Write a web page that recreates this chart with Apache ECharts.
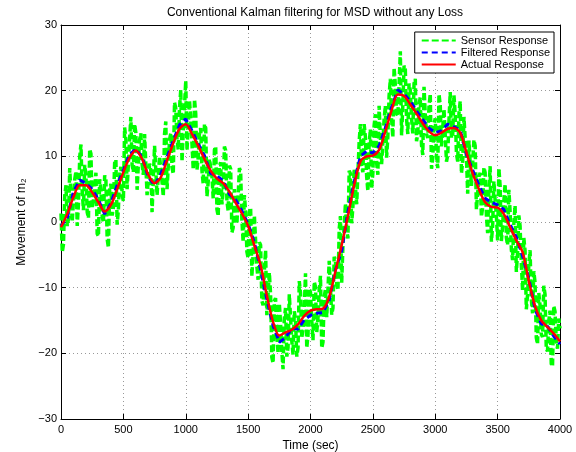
<!DOCTYPE html>
<html>
<head>
<meta charset="utf-8">
<title>Conventional Kalman filtering for MSD</title>
<script src="https://cdn.jsdelivr.net/npm/echarts@6/dist/echarts.min.js"></script>
<style>
  html, body { margin: 0; padding: 0; background: #fff; }
  #chart { width: 576px; height: 452px; }
</style>
</head>
<body>
<div id="chart"></div>
<script>
  // time axis ticks
  var xTicks = [0, 500, 1000, 1500, 2000, 2500, 3000, 3500, 4000];
  var yTicks = [-30, -20, -10, 0, 10, 20, 30];

  // actual response, one value every 50 s
  var actualT = [];
  for (var i = 0; i <= 80; i++) actualT.push(i * 50);
  var actual = [
    -0.8, 1.2, 3.8, 5.6, 5.6, 4.5, 3.0, 1.6, 2.6, 5.0,
    7.6, 9.8, 10.9, 9.6, 7.2, 5.9, 6.8, 9.4, 12.0, 14.2,
    14.9, 13.4, 11.6, 9.6, 7.8, 6.6, 5.9, 4.6, 2.9, 1.3,
    -0.6, -3.6, -6.6, -11.2, -15.2, -17.3, -16.8, -16.4, -15.6, -14.3,
    -13.5, -13.3, -13.2, -11.4, -7.5, -3.5, 0.9, 5.6, 9.2, 10.0,
    10.1, 11.0, 13.8, 17.0, 19.4, 19.2, 17.9, 16.5, 15.0, 13.8,
    13.2, 13.6, 14.2, 14.3, 13.6, 10.6, 7.4, 5.0, 3.0, 2.3,
    2.2, 1.2, -0.8, -2.8, -4.6, -9.0, -12.8, -15.0, -16.0, -17.0,
    -18.2
  ];

  // filtered response, same time steps
  var filtered = [
    -0.6, 0.6, 4.6, 6.4, 5.9, 5.0, 3.4, 1.2, 2.9, 5.6,
    7.9, 10.3, 11.1, 9.9, 6.8, 5.6, 7.3, 9.9, 12.4, 14.8,
    15.7, 13.9, 11.9, 10.1, 7.4, 7.0, 6.3, 4.2, 3.4, 1.7,
    -0.3, -3.1, -7.3, -11.8, -15.8, -18.3, -17.6, -16.2, -16.3, -14.9,
    -14.2, -13.9, -13.8, -11.9, -7.3, -4.4, 1.6, 6.1, 10.0, 10.8,
    10.5, 11.6, 14.3, 17.5, 20.1, 19.5, 18.4, 16.9, 15.6, 14.3,
    13.6, 13.9, 14.9, 14.5, 14.0, 10.3, 7.9, 5.6, 3.6, 3.0,
    2.6, 1.9, -0.4, -2.3, -5.2, -8.6, -13.3, -15.5, -15.9, -17.4,
    -18.6
  ];

  // sensor response at t = 0, 20, 40 ... 4000 s
  var sensorEven = [
    1.3, -3.4, 5.6, 0.5, 8.1, -0.3, 7.7, 2.8, 11.8, 1.8,
    7.1, 0.6, 10.4, 3.4, 7.5, -2.2, 4.8, -0.1, 6.4, -3.9,
    5.8, 2.1, 9.5, 1.9, 8.4, 3.2, 12.6, 8.8, 16.0, 7.6,
    13.6, 4.9, 13.5, 7.2, 13.1, 4.1, 7.9, 1.3, 11.5, 4.2,
    10.1, 3.9, 15.3, 8.5, 13.5, 7.3, 17.3, 11.0, 20.1, 13.7,
    21.5, 10.8, 15.7, 8.0, 16.5, 9.9, 14.3, 5.8, 14.3, 6.1,
    9.4, 3.6, 11.5, 0.9, 9.1, 4.8, 10.9, 1.7, 8.1, -0.9,
    5.1, -0.4, 7.7, -3.0, 1.6, -5.5, 2.2, -4.8, 1.0, -8.8,
    -3.5, -12.7, -4.3, -14.1, -11.0, -21.5, -11.6, -20.0, -15.4, -22.4,
    -13.1, -19.1, -10.9, -20.2, -14.9, -19.2, -10.8, -16.2, -7.8, -17.2,
    -10.7, -18.0, -9.9, -14.6, -8.2, -18.3, -10.2, -14.6, -6.0, -13.1,
    -5.9, -10.4, 0.9, -3.5, 2.8, -2.5, 7.4, 2.4, 8.3, 2.9,
    14.9, 7.6, 13.0, 4.7, 14.1, 7.5, 16.4, 7.2, 12.8, 8.6,
    17.7, 13.0, 21.8, 12.9, 20.9, 16.1, 26.0, 17.7, 23.3, 13.4,
    20.0, 13.5, 21.8, 13.5, 19.0, 10.2, 16.3, 12.8, 19.5, 9.7,
    15.8, 8.2, 17.8, 11.3, 17.0, 10.2, 19.8, 13.3, 16.4, 9.2,
    18.4, 9.3, 12.7, 4.3, 12.5, 5.2, 11.6, 1.7, 7.5, 2.2,
    7.5, -1.7, 8.5, -0.6, 3.3, -2.8, 5.5, -0.6, 5.8, -3.5,
    1.6, -5.8, 2.5, -4.6, -0.6, -10.4, -4.4, -11.1, -4.3, -13.9,
    -9.2, -18.6, -12.7, -17.5, -11.0, -19.7, -13.5, -22.0, -13.6, -19.3,
    -16.2
  ];

  // sensor response at t = 10, 30, 50 ... 3990 s
  var sensorOdd = [
    -4.6, 4.0, -0.6, 8.2, 0.0, 6.5, -0.6, 9.9, 4.7, 8.7,
    1.5, 11.1, 2.1, 5.5, -1.8, 6.5, 0.9, 7.1, -2.6, 5.0,
    1.0, 9.0, -0.4, 7.2, 4.1, 14.4, 5.0, 12.6, 8.7, 14.9,
    4.9, 12.5, 8.8, 13.4, 4.1, 8.9, 1.5, 11.6, 4.1, 10.0,
    6.1, 13.4, 5.0, 12.5, 8.3, 18.2, 12.6, 17.4, 9.2, 17.6,
    10.9, 18.5, 11.9, 18.7, 7.9, 13.6, 7.8, 14.9, 3.9, 9.6,
    7.0, 11.0, 1.9, 8.5, 2.7, 11.5, 3.2, 8.6, -1.6, 5.0,
    -0.3, 8.2, 0.3, 4.1, -4.5, 1.5, -8.3, 1.0, -6.8, -3.1,
    -12.0, -7.5, -14.2, -7.7, -20.6, -12.0, -17.1, -12.4, -19.7, -14.7,
    -20.5, -11.0, -18.1, -13.6, -20.5, -9.0, -17.7, -13.1, -19.2, -10.1,
    -14.9, -9.1, -16.8, -10.4, -19.2, -11.4, -14.5, -5.9, -14.1, -5.3,
    -9.5, -1.1, -9.3, -0.8, -1.0, 7.8, -0.2, 8.1, 2.7, 12.2,
    8.6, 14.9, 7.0, 11.9, 5.1, 14.7, 9.0, 17.7, 8.8, 15.6,
    9.8, 19.2, 15.7, 23.5, 16.5, 20.8, 13.2, 23.8, 15.7, 21.1,
    15.8, 21.1, 12.3, 17.9, 11.7, 20.6, 13.4, 17.6, 8.1, 14.9,
    10.1, 19.5, 11.5, 17.2, 9.2, 15.4, 12.8, 19.3, 10.4, 16.5,
    7.4, 16.0, 9.9, 12.4, 5.5, 12.5, 1.9, 6.9, 0.8, 8.3,
    1.1, 5.0, -3.0, 6.2, 1.0, 8.2, -2.9, 3.2, -2.4, 4.9,
    -4.2, -0.3, -7.6, 1.0, -6.3, -2.4, -13.3, -6.5, -11.7, -7.5,
    -17.6, -10.8, -17.1, -9.7, -19.3, -15.1, -21.6, -12.8, -18.0, -14.7
  ];

  function pairs(ts, vs) {
    var out = [];
    for (var k = 0; k < vs.length; k++) out.push([ts[k], vs[k]]);
    return out;
  }

  // merge the two sensor lists in time order
  var sensorData = [];
  for (var s = 0; s < sensorEven.length; s++) {
    sensorData.push([s * 20, sensorEven[s]]);
    if (s < sensorOdd.length) sensorData.push([s * 20 + 10, sensorOdd[s]]);
  }

  var font = 'Liberation Sans, Arial, sans-serif';
  var chart = echarts.init(document.getElementById('chart'), null, { renderer: 'canvas' });

  var boxAxisX = {
    type: 'value', min: 0, max: 4000, interval: 500,
    axisLine: { show: true, onZero: false, lineStyle: { color: '#000', width: 1 } },
    axisTick: { show: true, inside: true, length: 5, lineStyle: { color: '#000' } },
    splitLine: { show: false }
  };
  var boxAxisY = {
    type: 'value', min: -30, max: 30, interval: 10,
    axisLine: { show: true, onZero: false, lineStyle: { color: '#000', width: 1 } },
    axisTick: { show: true, inside: true, length: 5, lineStyle: { color: '#000' } },
    splitLine: { show: false }
  };

  var option = {
    animation: false,
    backgroundColor: '#fff',
    title: {
      text: 'Conventional Kalman filtering for MSD without any Loss',
      left: 310, top: 2, textAlign: 'center',
      textStyle: { fontFamily: font, fontSize: 12, fontWeight: 'normal', color: '#000' }
    },
    legend: {
      orient: 'vertical', right: 22, top: 32,
      backgroundColor: '#fff', borderColor: '#000', borderWidth: 1,
      padding: [3, 4, 3, 6], itemGap: 1, itemWidth: 34, itemHeight: 12,
      itemStyle: { opacity: 0 },
      textStyle: { fontFamily: font, fontSize: 11, color: '#000' },
      data: ['Sensor Response', 'Filtered Response', 'Actual Response']
    },
    grid: { left: 61, right: 16, top: 25, bottom: 33, outerBoundsMode: 'none' },
    xAxis: [
      Object.assign({}, boxAxisX, {
        position: 'bottom',
        name: 'Time (sec)', nameLocation: 'middle', nameGap: 16,
        nameTextStyle: { fontFamily: font, fontSize: 12, color: '#000' },
        axisLabel: {
          fontFamily: font, fontSize: 11, color: '#000', margin: 5,
          formatter: function (v) { return xTicks.indexOf(v) >= 0 ? String(v) : ''; }
        },
        splitLine: { show: true, lineStyle: { color: '#999', type: [1, 3], width: 1 } }
      }),
      Object.assign({}, boxAxisX, { position: 'top', axisLabel: { show: false } })
    ],
    yAxis: [
      Object.assign({}, boxAxisY, {
        position: 'left',
        name: 'Movement of m\u2082', nameLocation: 'middle', nameGap: 30,
        nameTextStyle: { fontFamily: font, fontSize: 12, color: '#000' },
        axisLabel: {
          fontFamily: font, fontSize: 11, color: '#000', margin: 4,
          formatter: function (v) {
            if (yTicks.indexOf(v) < 0) return '';
            return v < 0 ? '\u2212' + Math.abs(v) : String(v);
          }
        },
        splitLine: { show: true, lineStyle: { color: '#999', type: [1, 3], width: 1 } }
      }),
      Object.assign({}, boxAxisY, { position: 'right', axisLabel: { show: false } })
    ],
    series: [
      {
        name: 'Sensor Response', type: 'line', symbol: 'none',
        data: sensorData,
        lineStyle: { color: '#00ff00', width: 3.5, type: [7, 3] },
        itemStyle: { color: '#00ff00' }
      },
      {
        name: 'Filtered Response', type: 'line', symbol: 'none',
        data: pairs(actualT, filtered),
        lineStyle: { color: '#0000ff', width: 3, type: [6, 4] },
        itemStyle: { color: '#0000ff' }
      },
      {
        name: 'Actual Response', type: 'line', symbol: 'none', smooth: 0.3,
        data: pairs(actualT, actual),
        lineStyle: { color: '#ff0000', width: 2.5 },
        itemStyle: { color: '#ff0000' }
      }
    ]
  };

  chart.setOption(option);
</script>
</body>
</html>
